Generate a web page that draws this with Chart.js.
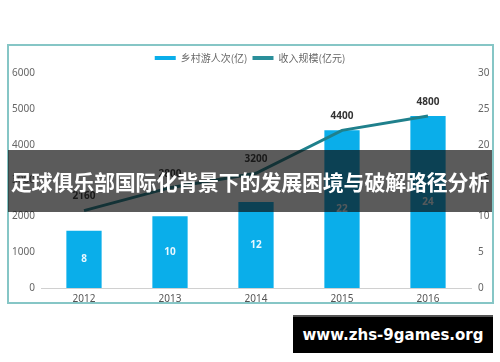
<!DOCTYPE html>
<html>
<head>
<meta charset="utf-8">
<script src="https://cdn.jsdelivr.net/npm/chart.js@4/dist/chart.umd.min.js"></script>
<style>
  html, body { margin: 0; padding: 0; background: #fff; }
  #wrap { position: relative; width: 500px; height: 362px; overflow: hidden; }
  #frame { position: absolute; left: 7px; top: 44px; width: 483px; height: 256px; border: 2px solid #86c6c6; }
  #chart { position: absolute; left: 0; top: 0; }
  #banner {
    position: absolute; left: 8px; top: 150px; width: 484px; height: 62px;
    background: rgba(14,14,14,0.68); color: #fff;
    font: bold 21px "Noto Sans CJK SC", sans-serif; line-height: 62px;
    text-align: center; white-space: nowrap; letter-spacing: -0.2px;
  }
  #mark {
    position: absolute; left: 293px; top: 315px; width: 200px; height: 38px;
    background: #000; color: #fff; border-top: 2px solid #555; box-sizing: border-box;
    font: bold 15px "DejaVu Sans", sans-serif; line-height: 36px; text-align: center;
  }
</style>
</head>
<body>
<div id="wrap">
  <div id="frame"></div>
  <canvas id="chart" width="500" height="362"></canvas>
  <div id="banner">足球俱乐部国际化背景下的发展困境与破解路径分析</div>
  <div id="mark">www.zhs-9games.org</div>
</div>
<script>
// chart data
const years = ["2012", "2013", "2014", "2015", "2016"];
const visitors = [8, 10, 12, 22, 24];          // 乡村游人次(亿), right axis
const revenue = [2160, 2800, 3200, 4400, 4800]; // 收入规模(亿元), left axis
const leftTicks = [0, 1000, 2000, 3000, 4000, 5000, 6000];
const rightTicks = [0, 5, 10, 15, 20, 25, 30];

const barBlue = "#0aaeea";
const lineTeal = "#1f808c";

Chart.defaults.font.family = '"Noto Sans", "Noto Sans CJK SC", sans-serif';
Chart.defaults.font.size = 10;
Chart.defaults.color = "#666";

// value labels: bar values inside, line values above points
const valueLabels = {
  id: "valueLabels",
  afterDatasetsDraw(chart) {
    const ctx = chart.ctx;
    ctx.save();
    ctx.textAlign = "center";
    ctx.textBaseline = "middle";
    ctx.font = 'bold 10px "Noto Sans", sans-serif';
    chart.getDatasetMeta(0).data.forEach((bar, i) => {
      ctx.fillStyle = "#e8f7ff";
      ctx.fillText(visitors[i], bar.x, (bar.y + bar.base) / 2);
    });
    chart.getDatasetMeta(1).data.forEach((pt, i) => {
      ctx.fillStyle = "#333";
      ctx.fillText(revenue[i], pt.x, pt.y - 14);
    });
    ctx.restore();
  },
};

new Chart(document.getElementById("chart"), {
  type: "bar",
  data: {
    labels: years,
    datasets: [
      {
        label: "乡村游人次(亿)",
        data: visitors,
        yAxisID: "y1",
        backgroundColor: barBlue,
        borderWidth: 0,
        categoryPercentage: 1,
        barPercentage: 0.41,
        order: 1,
      },
      {
        type: "line",
        label: "收入规模(亿元)",
        data: revenue,
        yAxisID: "y",
        borderColor: lineTeal,
        backgroundColor: "#2a8f9a",
        borderWidth: 3,
        pointRadius: 0,
        tension: 0,
        order: 0,
      },
    ],
  },
  options: {
    responsive: false,
    animation: false,
    layout: { padding: { top: 48, left: 0, right: 0, bottom: 0 } },
    plugins: {
      legend: {
        labels: {
          boxWidth: 21,
          boxHeight: 4,
          padding: 5,
          color: "#666",
          font: { size: 10, family: '"Noto Sans CJK SC", sans-serif' },
          sort: (a, b) => a.datasetIndex - b.datasetIndex,
          generateLabels: (chart) =>
            Chart.defaults.plugins.legend.labels.generateLabels(chart).map((l) => {
              l.lineWidth = 0;
              return l;
            }),
        },
      },
      tooltip: { enabled: false },
    },
    scales: {
      x: {
        grid: { display: false, drawTicks: false },
        border: { color: "#d0d0d0" },
        ticks: { color: "#555", padding: 5 },
        afterFit: (s) => { s.height = 74; },
      },
      y: {
        position: "left",
        min: 0,
        max: 6000,
        afterBuildTicks: (s) => { s.ticks = leftTicks.map((v) => ({ value: v })); },
        grid: { display: false, drawTicks: false },
        border: { display: false },
        ticks: { padding: 6, callback: (v) => String(v) },
        afterFit: (s) => { s.width = 41; },
      },
      y1: {
        position: "right",
        min: 0,
        max: 30,
        afterBuildTicks: (s) => { s.ticks = rightTicks.map((v) => ({ value: v })); },
        grid: { display: false, drawTicks: false },
        border: { display: false },
        ticks: { padding: 7, callback: (v) => String(v) },
        afterFit: (s) => { s.width = 29; },
      },
    },
  },
  plugins: [valueLabels],
});
</script>
</body>
</html>
